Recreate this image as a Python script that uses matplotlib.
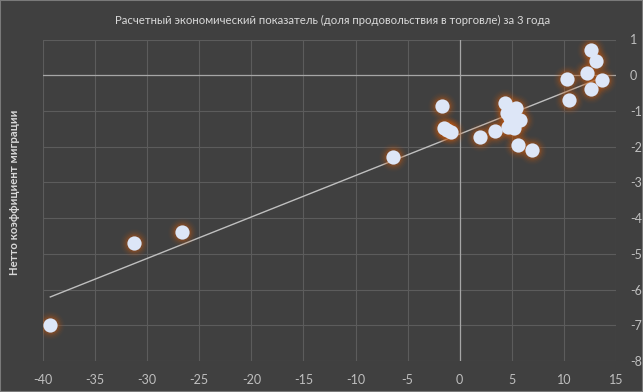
import numpy as np
import matplotlib
matplotlib.use('Agg')
import matplotlib.pyplot as plt
from matplotlib.patches import Rectangle

plt.rcParams['font.family'] = ['Lato', 'DejaVu Sans']
plt.rcParams['axes.unicode_minus'] = False

# data
share_x = [-39.3, -31.3, -26.7, -6.4, -1.7, -1.5, -1.2, -0.8,
           1.9, 3.4, 4.3, 4.5, 4.6, 4.8, 5.2, 5.4, 5.8, 5.6, 6.9,
           10.3, 10.5, 12.2, 12.6, 12.6, 13.1, 13.7]
migration_y = [-7.0, -4.7, -4.4, -2.3, -0.86, -1.49, -1.53, -1.58,
               -1.73, -1.56, -0.78, -1.07, -1.45, -1.2, -1.49, -0.92, -1.24, -1.95, -2.09,
               -0.11, -0.70, 0.05, -0.39, 0.70, 0.39, -0.14]

x_ticks = [-40, -35, -30, -25, -20, -15, -10, -5, 0, 5, 10, 15]
y_ticks = [1, 0, -1, -2, -3, -4, -5, -6, -7, -8]

title = 'Расчетный экономический показатель (доля продовольствия в торговле) за 3 года'
y_label = 'Нетто коэффициент миграции'

bg = '#404040'
fig = plt.figure(figsize=(6.43, 3.92), dpi=100, facecolor=bg)
ax = fig.add_axes([43 / 643, 1 - 361 / 392, (616 - 43) / 643, (361 - 39.5) / 392])
ax.set_facecolor(bg)

ax.set_xlim(-40, 15)
ax.set_ylim(-8, 1)
ax.set_xticks(x_ticks)
ax.set_yticks(y_ticks)
ax.grid(True, color='#5c5c5c', linewidth=0.8)
ax.set_axisbelow(True)
for s in ax.spines.values():
    s.set_visible(False)
ax.axhline(0, color='#a6a6a6', linewidth=0.9, zorder=1)
ax.axvline(0, color='#a6a6a6', linewidth=0.9, zorder=1)

ax.yaxis.tick_right()
ax.tick_params(axis='both', length=0, colors='#bfbfbf', labelsize=9)
ax.tick_params(axis='y', pad=10)
ax.tick_params(axis='x', pad=9)

# trend line
k, b = np.polyfit(share_x, migration_y, 1)
xs = np.array([min(share_x), max(share_x)])
ax.plot(xs, k * xs + b, color='#bfbfbf', linewidth=1.0, zorder=2)

# soft orange glow around markers
for size, alpha in [(420, 0.04), (340, 0.06), (270, 0.09), (210, 0.13), (160, 0.2)]:
    ax.scatter(share_x, migration_y, s=size, color='#c55a11', alpha=alpha,
               linewidths=0, zorder=3)
ax.scatter(share_x, migration_y, s=105, color='#dde6f7', linewidths=0, zorder=4)

fig.text(333 / 643, 1 - 20 / 392, title, ha='center', va='center', color='#d9d9d9', fontsize=8.2)
fig.text(15 / 643, 1 - 192 / 392, y_label, rotation=90, ha='center', va='center',
         color='#d9d9d9', fontsize=8.2, fontweight='bold')

fig.patches.append(Rectangle((0, 0), 1, 1, transform=fig.transFigure, fill=False,
                             edgecolor='#7a7a7a', linewidth=1.5))

fig.savefig('out.png', dpi=100, facecolor=bg)
